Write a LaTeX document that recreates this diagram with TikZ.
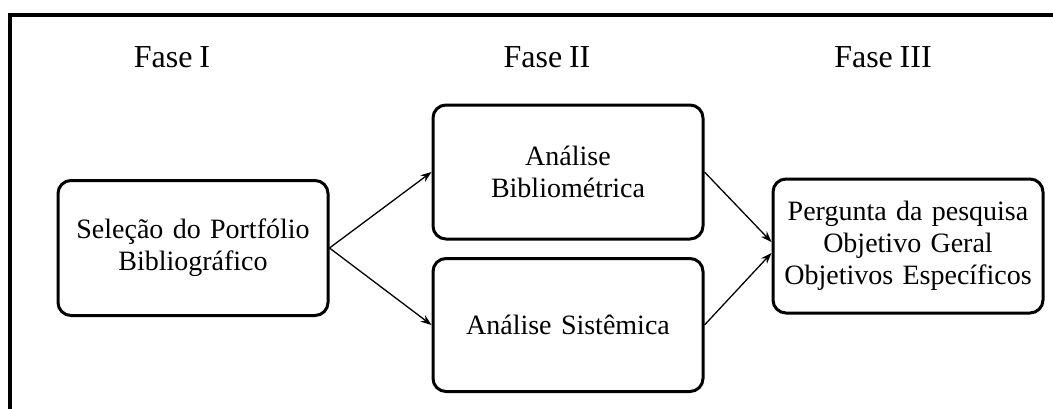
\documentclass[tikz,border=0pt]{standalone}
\usepackage{fontspec}
\setmainfont[WordSpace=0.85]{Liberation Serif}
\usepackage{tikz}
\usetikzlibrary{arrows.meta}
\tikzstyle{fase} = [font=\fontsize{32}{36}\selectfont, inner sep=0pt]
\tikzstyle{process} = [rectangle, rounded corners=13pt, minimum width=270pt, minimum height=134pt, text width=262pt, align=center, draw=black, line width=3pt, font=\fontsize{28}{32}\selectfont]
\tikzstyle{arrow} = [line width=1.3pt,->,>={Stealth[length=11pt,width=8pt]}]

\begin{document}
\begin{tikzpicture}[x=1pt,y=-1pt,node distance=375pt]
\useasboundingbox (0,0) rectangle (1053,408);
\clip (0,0) rectangle (1053,408);
\draw [line width=4pt] (10,15) rectangle (1070,430);

\node (fase1) [fase, anchor=base] at (172,67) {Fase I};
\node (fase2) [fase, anchor=base] at (547,67) {Fase II};
\node (fase3) [fase, anchor=base] at (883,67) {Fase III};

\node (sel) [process, minimum height=135pt] at (193,248) {Seleção do Portfólio\\Bibliográfico};
\node (bib) [process, right of=sel, yshift=76pt] {Análise\\Bibliométrica};
\node (sis) [process, right of=sel, yshift=-77pt, minimum height=133pt] {Análise Sistêmica};
\node (perg) [process, right of=sel, xshift=340pt, yshift=2pt] {Pergunta da pesquisa\\Objetivo Geral\\Objetivos Específicos};

\draw [arrow] (sel.east) -- (bib.west);
\draw [arrow] (sel.east) -- (sis.west);
\draw [arrow] (bib.east) -- ([yshift=4pt]perg.west);
\draw [arrow] (sis.east) -- ([yshift=-7pt]perg.west);

\end{tikzpicture}
\end{document}
